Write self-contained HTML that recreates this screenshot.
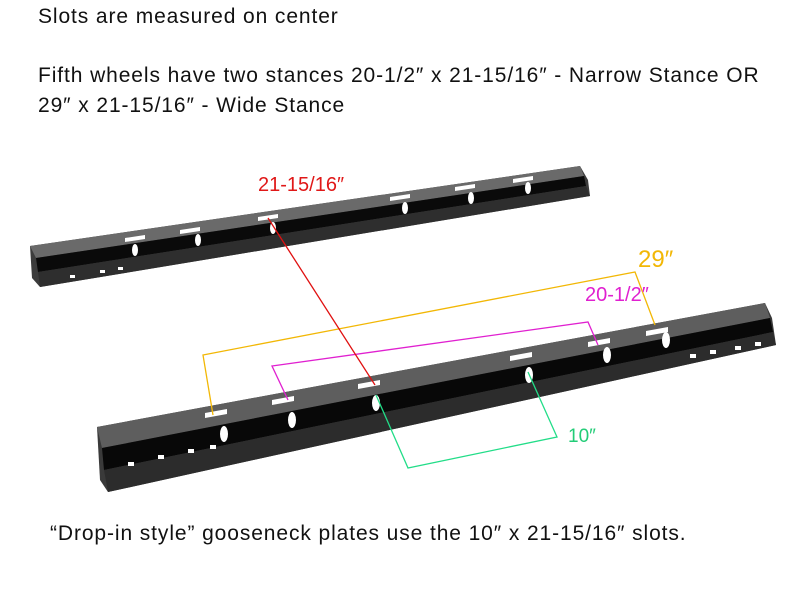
<!DOCTYPE html>
<html><head><style>
html,body{margin:0;padding:0;background:#fff;width:800px;height:600px;overflow:hidden}
.t{position:absolute;font-family:"Liberation Sans",sans-serif;font-size:21px;letter-spacing:0.9px;color:#111;white-space:nowrap}
</style></head><body>
<div class="t" style="left:38px;top:5px">Slots are measured on center</div>
<div class="t" style="left:38px;top:64px">Fifth wheels have two stances 20-1/2″ x 21-15/16″ - Narrow Stance OR</div>
<div class="t" style="left:38px;top:94px">29″ x 21-15/16″ - Wide Stance</div>
<div class="t" style="left:50px;top:522px">“Drop-in style” gooseneck plates use the 10″ x 21-15/16″ slots.</div>
<svg width="800" height="600" style="position:absolute;left:0;top:0">
<polygon points="30,246 580,166 588,180 590,196 40,287 32,278" fill="#3c3c3c"/>
<polygon points="30,246 580,166 584,176 36,258" fill="#6a6a6a"/>
<polygon points="36,258 584,176 586,186 38,272" fill="#0a0a0a"/>
<polygon points="38,272 586,186 590,196 40,287" fill="#2e2e2e"/>
<polygon points="97,427 765,303 772,318 776,345 108,492 100,480" fill="#3a3a3a"/>
<polygon points="97,427 765,303 770,318 102,448" fill="#5e5e5e"/>
<polygon points="102,448 770,318 773,332 104,470" fill="#080808"/>
<polygon points="104,470 773,332 776,345 108,492" fill="#2c2c2c"/>
<g fill="#fff">
<polygon points="125,238 145,235 145,239 125,242"/>
<polygon points="180,230 200,227 200,231 180,234"/>
<polygon points="258,217 278,214 278,218 258,221"/>
<polygon points="390,197 410,194 410,198 390,201"/>
<polygon points="455,187 475,184 475,188 455,191"/>
<polygon points="513,179 533,176 533,180 513,183"/>
<ellipse cx="135" cy="250" rx="3" ry="6"/><ellipse cx="198" cy="240" rx="3" ry="6"/><ellipse cx="273" cy="228" rx="3" ry="6"/><ellipse cx="405" cy="208" rx="3" ry="6"/><ellipse cx="471" cy="198" rx="3" ry="6"/><ellipse cx="528" cy="188" rx="3" ry="6"/>
<polygon points="205,413 227,409 227,414 205,418"/>
<polygon points="272,400 294,396 294,401 272,405"/>
<polygon points="358,384 380,380 380,385 358,389"/>
<polygon points="510,356 532,352 532,357 510,361"/>
<polygon points="588,342 610,338 610,343 588,347"/>
<polygon points="646,331 668,327 668,332 646,336"/>
<ellipse cx="224" cy="434" rx="4" ry="8"/><ellipse cx="292" cy="420" rx="4" ry="8"/><ellipse cx="376" cy="403" rx="4" ry="8"/><ellipse cx="529" cy="375" rx="4" ry="8"/><ellipse cx="607" cy="355" rx="4" ry="8"/><ellipse cx="666" cy="340" rx="4" ry="8"/>
<rect x="128" y="462" width="6" height="4"/><rect x="158" y="455" width="6" height="4"/><rect x="188" y="449" width="6" height="4"/><rect x="210" y="445" width="6" height="4"/>
<rect x="690" y="354" width="6" height="4"/><rect x="710" y="350" width="6" height="4"/><rect x="735" y="346" width="6" height="4"/><rect x="755" y="342" width="6" height="4"/>
<rect x="70" y="275" width="5" height="3"/><rect x="100" y="270" width="5" height="3"/><rect x="118" y="267" width="5" height="3"/>
</g>
<polyline points="213,415 203,355 635,272 655,325" fill="none" stroke="#f2b705" stroke-width="1.3"/>
<polyline points="288,400 272,366 588,322 598,345" fill="none" stroke="#e020d0" stroke-width="1.3"/>
<polyline points="376,395 408,468 557,437 528,372" fill="none" stroke="#22dd88" stroke-width="1.3"/>
<line x1="268" y1="218" x2="375" y2="385" stroke="#e01010" stroke-width="1.3"/>
<text x="258" y="191" font-family="Liberation Sans,sans-serif" font-size="20" fill="#e01818">21-15/16″</text>
<text x="638" y="267" font-family="Liberation Sans,sans-serif" font-size="24" fill="#f2b705">29″</text>
<text x="585" y="301" font-family="Liberation Sans,sans-serif" font-size="20" fill="#e020d0">20-1/2″</text>
<text x="568" y="442" font-family="Liberation Sans,sans-serif" font-size="19" fill="#22cc77">10″</text>
</svg>
</body></html>
